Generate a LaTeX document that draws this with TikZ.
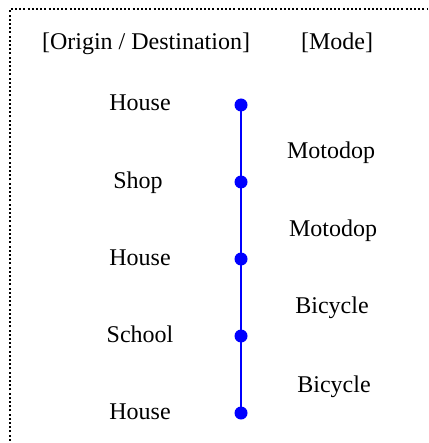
\documentclass[tikz,border=0pt]{standalone}
\usepackage{fontspec}
\setmainfont{Liberation Serif}
\begin{document}
\begin{tikzpicture}[x=1pt,y=1pt,
  lbl/.style={anchor=base,inner sep=0pt,font=\fontsize{24}{28}\selectfont},
  stop/.style={circle,fill=blue,inner sep=0pt,minimum size=13pt},
  leg/.style={draw=blue,line width=2.2pt},
  frame/.style={line width=2pt,dash pattern=on 2pt off 2.2pt}]
\useasboundingbox (0,0) rectangle (428,-443);
% dotted frame, open to the right and bottom
\draw[frame] (9.5,-445) -- (9.5,-9.5) -- (427,-9.5);
% column headings
\node[lbl] (hplace) at (146,-50) {[Origin / Destination]};
\node[lbl] (hmode) at (337,-50) {[Mode]};
% stops
\coordinate (c1) at (241,-105);
\coordinate (c2) at (241,-182);
\coordinate (c3) at (241,-259);
\coordinate (c4) at (241,-336);
\coordinate (c5) at (241,-413);
\draw[leg] (c1) -- (c2) -- (c3) -- (c4) -- (c5);
\node[stop] (s1) at (c1) {};
\node[stop] (s2) at (c2) {};
\node[stop] (s3) at (c3) {};
\node[stop] (s4) at (c4) {};
\node[stop] (s5) at (c5) {};
% places
\node[lbl] (p1) at (140,-111) {House};
\node[lbl] (p2) at (138,-189) {Shop};
\node[lbl] (p3) at (140,-265) {House};
\node[lbl] (p4) at (140,-342) {School};
\node[lbl] (p5) at (140,-419) {House};
% modes
\node[lbl] (m1) at (331,-159) {Motodop};
\node[lbl] (m2) at (333,-236) {Motodop};
\node[lbl] (m3) at (332,-313) {Bicycle};
\node[lbl] (m4) at (334,-392) {Bicycle};
\end{tikzpicture}
\end{document}
